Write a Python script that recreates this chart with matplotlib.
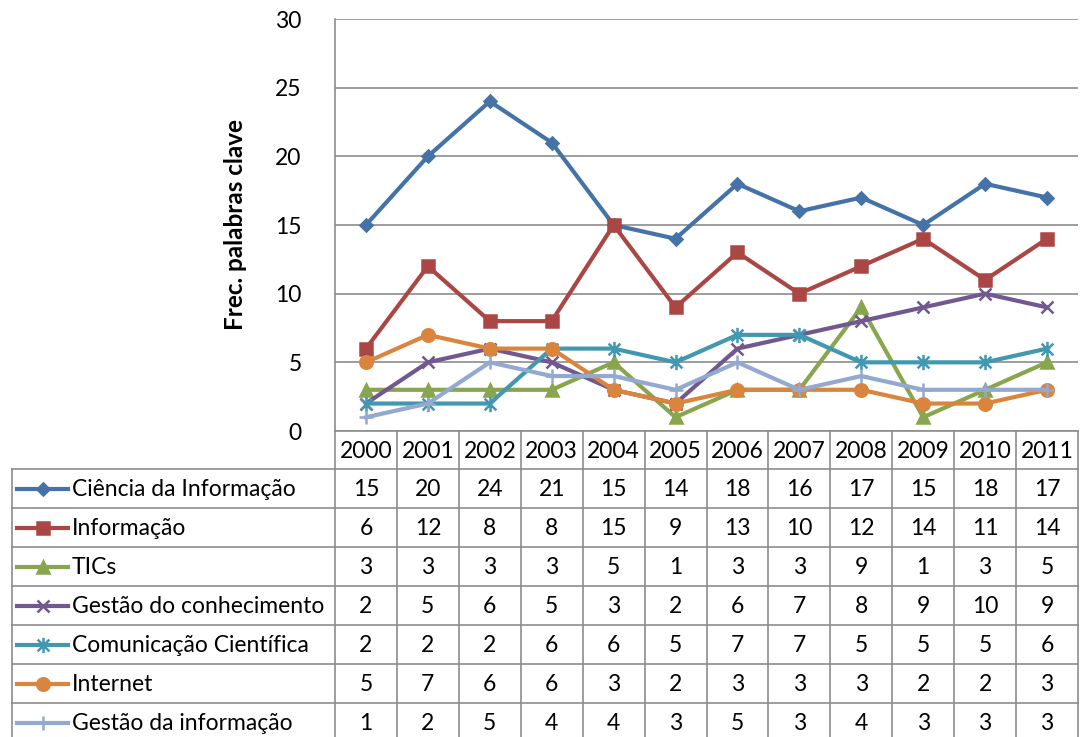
import matplotlib
matplotlib.use('Agg')
import matplotlib.pyplot as plt
from matplotlib.path import Path

plt.rcParams['font.family'] = ['Lato', 'DejaVu Sans']

years = ['2000', '2001', '2002', '2003', '2004', '2005',
         '2006', '2007', '2008', '2009', '2010', '2011']
ciencia = [15, 20, 24, 21, 15, 14, 18, 16, 17, 15, 18, 17]
informacao = [6, 12, 8, 8, 15, 9, 13, 10, 12, 14, 11, 14]
tics = [3, 3, 3, 3, 5, 1, 3, 3, 9, 1, 3, 5]
gestao_conh = [2, 5, 6, 5, 3, 2, 6, 7, 8, 9, 10, 9]
comunicacao = [2, 2, 2, 6, 6, 5, 7, 7, 5, 5, 5, 6]
internet = [5, 7, 6, 6, 3, 2, 3, 3, 3, 2, 2, 3]
gestao_info = [1, 2, 5, 4, 4, 3, 5, 3, 4, 3, 3, 3]

names = ['Ciência da Informação', 'Informação', 'TICs', 'Gestão do conhecimento',
         'Comunicação Científica', 'Internet', 'Gestão da informação']
series = [ciencia, informacao, tics, gestao_conh, comunicacao, internet, gestao_info]

# asterisco tipo Excel (x + barra vertical)
star = Path([(-1, -1), (1, 1), (-1, 1), (1, -1), (0, -1.3), (0, 1.3)],
            [Path.MOVETO, Path.LINETO, Path.MOVETO, Path.LINETO, Path.MOVETO, Path.LINETO])

colors = ['#4572A7', '#AA4643', '#89A54E', '#71588F', '#4198AF', '#DB843D', '#93A9CF']
markers = ['D', 's', '^', 'x', star, 'o', '+']
msizes = [6.5, 9, 9, 9, 11, 9, 10]

W, H = 1080, 737
fs = 16.5
fig = plt.figure(figsize=(W / 100, H / 100), dpi=100)

# zona del gráfico (en píxeles)
px0, px1, py0, py1 = 335, 1078, 19, 431
ax = fig.add_axes([px0 / W, 1 - py1 / H, (px1 - px0) / W, (py1 - py0) / H])

x = list(range(len(years)))
for s, c, m, ms in zip(series, colors, markers, msizes):
    ax.plot(x, s, color=c, lw=3, marker=m, ms=ms, mew=1.8, mfc=c, mec=c,
            clip_on=False)

ax.set_xlim(-0.5, len(years) - 0.5)
ax.set_ylim(0, 30)
ax.set_yticks(range(0, 31, 5))
ax.set_xticks([])
ax.yaxis.grid(True, color='#8c8c8c', lw=1.2)
ax.set_axisbelow(True)
for sp in ['top', 'right', 'bottom']:
    ax.spines[sp].set_visible(False)
ax.spines['left'].set_color('#8c8c8c')
ax.spines['left'].set_linewidth(1.2)
ax.tick_params(axis='y', length=0, labelsize=fs, pad=24)
ax.set_ylabel('Frec. palabras clave', fontsize=17.5, fontweight='bold', labelpad=20)

# tabla de datos
tab = fig.add_axes([0, 0, 1, 1])
tab.set_xlim(0, W)
tab.set_ylim(H, 0)
tab.axis('off')

gc = '#8c8c8c'
cw = (px1 - px0) / len(years)
hdr_bot = 469
rh = 39
nrows = len(series)
tbot = hdr_bot + rh * nrows

# líneas horizontales
tab.plot([px0, px1], [py1, py1], color=gc, lw=1.2)
for r in range(nrows + 1):
    y = hdr_bot + r * rh
    tab.plot([12, px1], [y, y], color=gc, lw=1.2)
# líneas verticales
tab.plot([12, 12], [hdr_bot, tbot], color=gc, lw=1.2)
for i in range(len(years) + 1):
    xx = px0 + i * cw
    tab.plot([xx, xx], [py1, tbot], color=gc, lw=1.2)

for i, yr in enumerate(years):
    tab.text(px0 + (i + 0.5) * cw, (py1 + hdr_bot) / 2 + 1, yr,
             ha='center', va='center', fontsize=fs)

for r, (nm, s, c, m, ms) in enumerate(zip(names, series, colors, markers, msizes)):
    yc = hdr_bot + (r + 0.5) * rh
    tab.plot([17, 42.5, 68], [yc, yc, yc], color=c, lw=3, marker=m, ms=ms,
             mew=1.8, mfc=c, mec=c, markevery=[1])
    tab.text(72, yc + 1, nm, ha='left', va='center', fontsize=fs)
    for i, v in enumerate(s):
        tab.text(px0 + (i + 0.5) * cw, yc + 1, str(v), ha='center', va='center',
                 fontsize=fs)

fig.savefig('out.png', dpi=100)
